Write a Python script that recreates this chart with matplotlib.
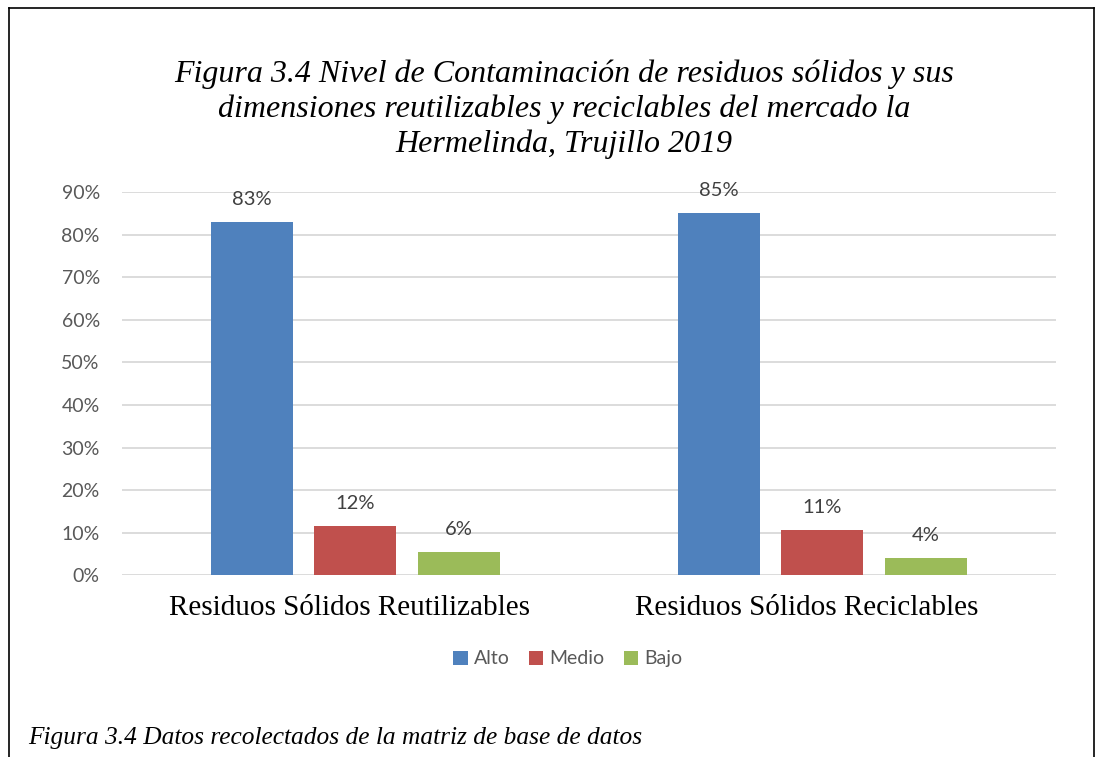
"""Nivel de contaminacion de residuos solidos - bar chart."""

import matplotlib
matplotlib.use('Agg')
import matplotlib.pyplot as plt
import matplotlib.ticker as tkr
import matplotlib.transforms as mtrans
from matplotlib.lines import Line2D
import numpy as np

categories = ['Residuos Sólidos Reutilizables', 'Residuos Sólidos Reciclables']
series_names = ['Alto', 'Medio', 'Bajo']
alto = [0.829, 0.85]
medio = [0.115, 0.106]
bajo = [0.055, 0.041]
labels = [['83%', '85%'], ['12%', '11%'], ['6%', '4%']]
colors = ['#4F81BD', '#C0504D', '#9BBB59']

fig = plt.figure(figsize=(10.96, 7.57), dpi=100)
ax = fig.add_axes([0.1113, 0.240, 0.8522, 0.5064])

x = np.arange(len(categories))
pitch = 0.2216
width = 0.1756
for i, (vals, name) in enumerate(zip([alto, medio, bajo], series_names)):
    pos = x + (i - 1) * pitch
    ax.bar(pos, vals, width, color=colors[i], label=name, zorder=3)
    for p, v, lab in zip(pos, vals, labels[i]):
        ax.annotate(lab, (p, v), xytext=(0, 10), textcoords='offset points',
                    ha='center', va='bottom', fontsize=14.5, color='#404040',
                    family='Lato')

ax.set_xlim(-0.5, 1.5)
ax.set_ylim(0, 0.9)
ax.set_yticks(np.arange(0, 0.91, 0.1))
ax.yaxis.set_major_formatter(tkr.FuncFormatter(lambda v, p: '%d%%' % round(v * 100)))
ax.grid(axis='y', color='#d9d9d9', lw=1.3, zorder=0)
for s in ax.spines.values():
    s.set_visible(False)
ax.tick_params(axis='both', length=0)
ax.tick_params(axis='y', labelsize=14, labelcolor='#595959', pad=16)
for t in ax.get_yticklabels():
    t.set_family('Lato')
ax.set_xticks(x)
ax.set_xticklabels(categories, family='Liberation Serif', fontsize=21, color='black')
ax.tick_params(axis='x', pad=14)
# Excel places the category labels slightly left of the group centres
for t, dx in zip(ax.get_xticklabels(), [-6, -16]):
    t.set_transform(t.get_transform() + mtrans.ScaledTranslation(dx / 100, 0, fig.dpi_scale_trans))

fig.text(0.5145, 0.856,
         'Figura 3.4 Nivel de Contaminación de residuos sólidos y sus\n'
         'dimensiones reutilizables y reciclables del mercado la\n'
         'Hermelinda, Trujillo 2019',
         ha='center', va='center', family='Liberation Serif', style='italic',
         fontsize=23, linespacing=1.25)

leg = fig.legend(loc='center', bbox_to_anchor=(0.518, 0.1295), ncol=3, frameon=False,
                 prop={'family': 'Lato', 'size': 14}, handlelength=0.75,
                 handleheight=0.75, handletextpad=0.3, columnspacing=1.0)
for t in leg.get_texts():
    t.set_color('#595959')

fig.text(0.0255, 0.025, 'Figura 3.4 Datos recolectados de la matriz de base de datos',
         ha='left', va='center', family='Liberation Serif', style='italic', fontsize=18.3)

# frame around the chart
fig.add_artist(Line2D([0.0085, 0.0085], [0.0, 0.9895], color='black', lw=1.2))
fig.add_artist(Line2D([0.0085, 0.998], [0.9895, 0.9895], color='black', lw=1.2))
fig.add_artist(Line2D([0.998, 0.998], [0.0, 0.9895], color='black', lw=1.2))

fig.savefig('out.png', dpi=100)
